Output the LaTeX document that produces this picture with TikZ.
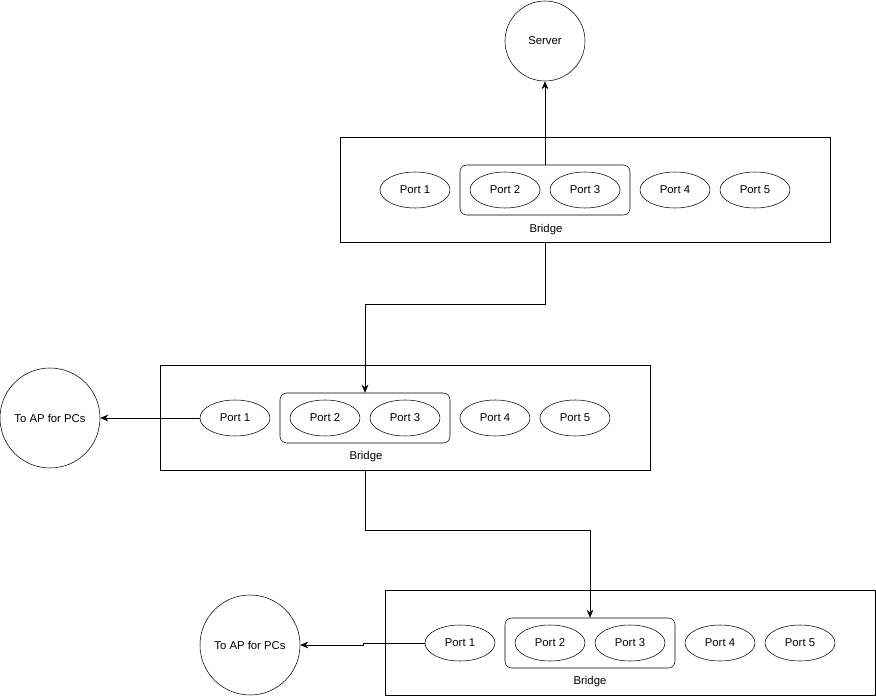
\documentclass[tikz,border=0pt]{standalone}
\usepackage{fontspec}
\setmainfont{Liberation Sans}
\usetikzlibrary{arrows.meta,shapes.geometric}
\begin{document}
\begin{tikzpicture}[x=0.75pt,y=-0.75pt,
  every node/.style={font=\fontsize{8.5}{10}\selectfont},
  port/.style={draw,ellipse,minimum width=52.5pt,minimum height=27pt,inner sep=0pt},
  grp/.style={draw,rounded corners=5pt,minimum width=127.5pt,minimum height=37.5pt},
  box/.style={draw,minimum width=367.5pt,minimum height=78.75pt},
  circ/.style={draw,circle,minimum size=#1,inner sep=0pt},
  arr/.style={-{Stealth[length=6pt,width=5pt]}}]
\useasboundingbox (0,0) rectangle (876,696);
\node[circ=60pt] (srv) at (545,41) {Server};
% top
\node[box] (b1) at (585,190) {};
\node[grp] (g1) at (545,190) {};
\node[port] (p11) at (415,190) {Port 1};
\node[port] (p12) at (505,190) {Port 2};
\node[port] (p13) at (585,190) {Port 3};
\node[port] (p14) at (675,190) {Port 4};
\node[port] (p15) at (755,190) {Port 5};
\node (l1) at (546,230) {Bridge};
% middle
\node[box] (b2) at (405,418) {};
\node[grp] (g2) at (365,418) {};
\node[port] (p21) at (235,418) {Port 1};
\node[port] (p22) at (325,418) {Port 2};
\node[port] (p23) at (405,418) {Port 3};
\node[port] (p24) at (495,418) {Port 4};
\node[port] (p25) at (575,418) {Port 5};
\node (l2) at (366,457) {Bridge};
\node[circ=75pt] (ap1) at (50,418) {To AP for PCs};
% bottom
\node[box] (b3) at (630,643) {};
\node[grp] (g3) at (590,643) {};
\node[port] (p31) at (460,643) {Port 1};
\node[port] (p32) at (550,643) {Port 2};
\node[port] (p33) at (630,643) {Port 3};
\node[port] (p34) at (720,643) {Port 4};
\node[port] (p35) at (800,643) {Port 5};
\node (l3) at (590,682) {Bridge};
\node[circ=75pt] (ap2) at (250,645) {To AP for PCs};
% connectors
\draw[arr] (g1.north) -- (srv.south);
\draw[arr] (b1.south -| g1.north) -- (545,304) -- (365,304) -- (g2.north);
\draw[arr] (p21.west) -- (ap1.east);
\draw[arr] (b2.south -| g2.north) -- (365,530) -- (590,530) -- (g3.north);
\draw[arr] (p31.west) -- (363,643) -- (363,645) -- (ap2.east);
\end{tikzpicture}
\end{document}
